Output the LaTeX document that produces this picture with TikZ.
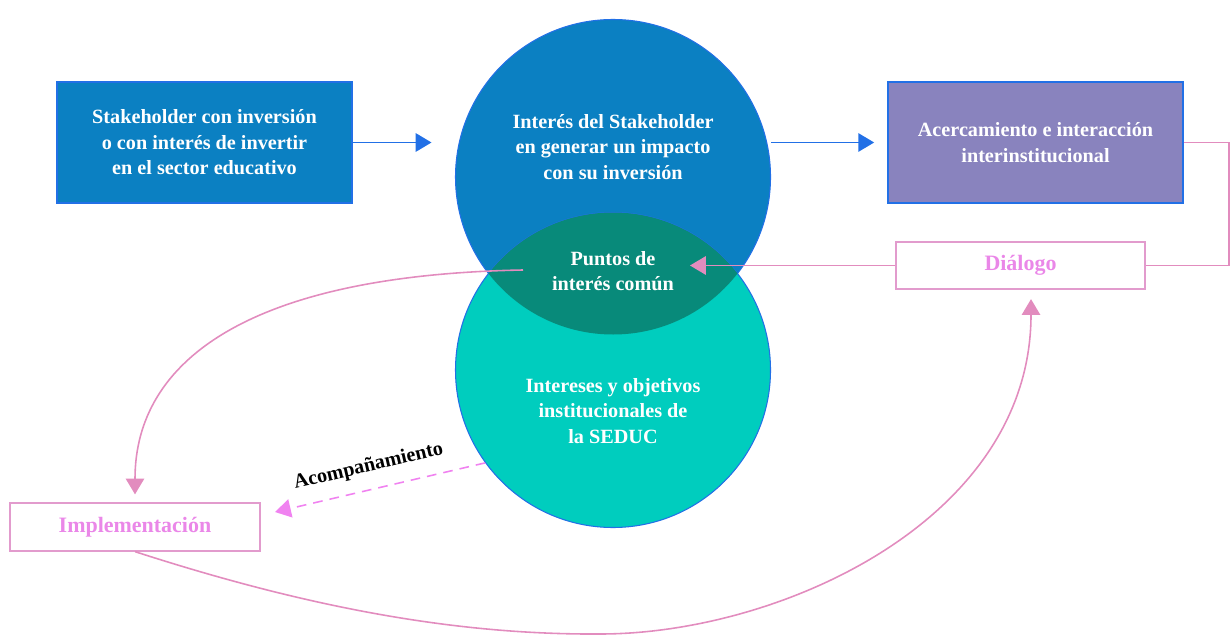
\documentclass[tikz,border=0pt]{standalone}
\usepackage{fontspec}
\setmainfont{Liberation Serif}
\usetikzlibrary{arrows.meta}
\definecolor{stkblue}{RGB}{11,128,194}
\definecolor{edgeblue}{RGB}{34,112,230}
\definecolor{seducteal}{RGB}{0,205,190}
\definecolor{comunteal}{RGB}{8,138,122}
\definecolor{acerpurple}{RGB}{137,131,190}
\definecolor{linkpink}{RGB}{226,140,190}
\definecolor{textpink}{RGB}{234,135,232}
\definecolor{boxpink}{RGB}{226,155,205}
\definecolor{dashviolet}{RGB}{240,130,240}
\begin{document}
\begin{tikzpicture}[
  font=\fontsize{11.5}{14.5}\selectfont\bfseries,
  bluebox/.style={draw=edgeblue, line width=1pt, text=white, align=center, minimum width=5.9cm, minimum height=2.42cm},
  pinkbox/.style={draw=boxpink, line width=1pt, text=textpink, minimum height=0.95cm, font=\fontsize{12.5}{15}\selectfont\bfseries},
  venn/.style={circle, draw=edgeblue, line width=0.6pt, minimum size=6.3cm, inner sep=0pt},
  intext/.style={text=white, align=center},
  bluearrow/.style={draw=edgeblue, line width=1pt, -{Triangle[length=9pt,width=10.5pt]}},
  pinkarrow/.style={draw=linkpink, line width=0.9pt, -{Triangle[length=9pt,width=10.5pt]}}]
\useasboundingbox (0,0) rectangle (24.6,12.72);

\node[bluebox, fill=stkblue] (stk) at (4.09,9.87) {Stakeholder con inversión\\ o con interés de invertir\\ en el sector educativo};
\node[venn, fill=stkblue] (topc) at (12.26,9.18) {};
\node[venn, fill=seducteal] (botc) at (12.26,5.32) {};
\begin{scope}
  \clip (12.26,9.18) circle (3.15);
  \fill[comunteal] (12.26,5.32) circle (3.15);
\end{scope}
\node[intext] (impacto) at (12.26,9.78) {Interés del Stakeholder\\ en generar un impacto\\ con su inversión};
\node[intext] (comun) at (12.26,7.30) {Puntos de\\ interés común};
\node[intext] (seduc) at (12.26,4.50) {Intereses y objetivos\\ institucionales de\\ la SEDUC};
\node[bluebox, fill=acerpurple] (acer) at (20.71,9.87) {Acercamiento e interacción\\ interinstitucional};
\node[pinkbox, minimum width=4.98cm] (dial) at (20.41,7.41) {Diálogo};
\node[pinkbox, minimum width=5.0cm] (impl) at (2.7,2.18) {Implementación};

\coordinate (inleft) at (13.8,7.41);
\coordinate (outleft) at (10.46,7.32);
\coordinate (implin) at (5.5,2.48);

\draw[bluearrow, shorten >=0.47cm] (stk.east) -- (stk.east -| topc.west);
\draw[bluearrow, shorten >=0.26cm] (topc.east |- acer.west) -- (acer.west);
\draw[linkpink, line width=0.9pt] (acer.east) -- ++(0.9,0) |- (dial.east);
\draw[pinkarrow] (dial.west) -- (inleft);
\draw[pinkarrow, shorten >=0.16cm] (outleft) .. controls (5.0,7.22) and (2.7,5.52) .. (impl.north);
\draw[pinkarrow, shorten >=0.18cm] (impl.south) .. controls (6.0,0.62) and (9.0,0.02) .. (12.0,0.04)
  .. controls (15.6,0.04) and (20.62,2.32) .. ([xshift=0.21cm]dial.south);
\draw[draw=dashviolet, line width=0.9pt, dash pattern=on 5.5pt off 4pt, -{Triangle[length=9pt,width=10.5pt]}]
  (botc.216) -- (implin) node[pos=0.53, above=4pt, sloped, text=black] {Acompañamiento};
\end{tikzpicture}
\end{document}
